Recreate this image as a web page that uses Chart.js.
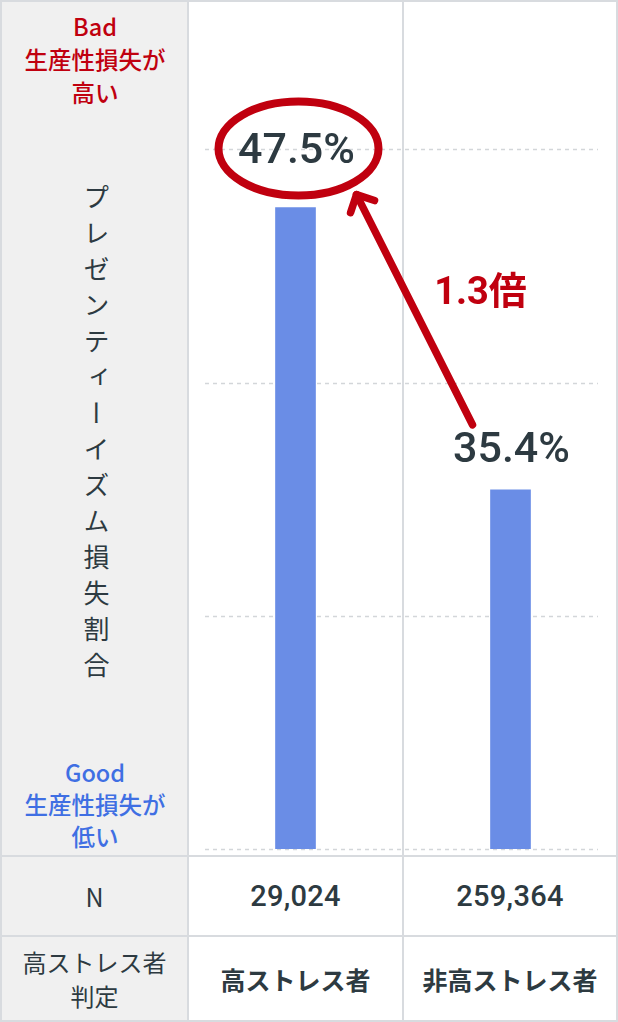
<!DOCTYPE html>
<html><head><meta charset="utf-8">
<script src="https://cdn.jsdelivr.net/npm/chart.js@4.4.1/dist/chart.umd.min.js"></script>
<style>
html,body{margin:0;padding:0;background:#fff;}
#wrap{position:relative;width:618px;height:1022px;overflow:hidden;font-family:"Noto Sans CJK JP","Noto Sans",sans-serif;color:#2d3a41;background:#fff;}
.abs{position:absolute;}
.ln{position:absolute;background:#d8dbdf;z-index:3;}
.lnv{position:absolute;background:#d8dbdf;z-index:1;}
#leftbg{left:0;top:0;width:188px;height:1022px;background:#f0f0f0;}
.cell{position:absolute;display:flex;align-items:center;justify-content:center;text-align:center;}
#bad{left:2px;width:186px;top:10px;line-height:33px;font-size:23.5px;font-weight:500;color:#c0000f;text-align:center;}
#good{left:2px;width:186px;top:756px;line-height:32px;font-size:23.5px;font-weight:500;color:#3f6fe3;text-align:center;}
#vtitle{left:78px;top:184px;width:36px;line-height:36px;font-size:26px;letter-spacing:10px;writing-mode:vertical-rl;text-orientation:upright;color:#2d3a41;}
#cwrap{position:absolute;left:188px;top:0;width:430px;height:856px;z-index:2;}
.num{font-family:Roboto,"Noto Sans CJK JP",sans-serif;font-weight:500;font-size:29px;letter-spacing:0.3px;}
.cat{font-weight:700;font-size:25px;}
</style></head>
<body>
<div id="wrap">
  <div class="abs" id="leftbg"></div>
  <div class="lnv" style="left:402px;top:0;width:2px;height:1022px;"></div>
  <div class="ln" style="left:0;top:0;width:618px;height:2px;"></div>
  <div class="ln" style="left:0;top:1020px;width:618px;height:2px;"></div>
  <div class="ln" style="left:0;top:0;width:2px;height:1022px;"></div>
  <div class="ln" style="left:616px;top:0;width:2px;height:1022px;"></div>
  <div class="ln" style="left:187px;top:0;width:2px;height:1022px;"></div>
  <div class="ln" style="left:402px;top:856px;width:2px;height:166px;"></div>
  <div class="ln" style="left:0;top:855px;width:618px;height:2px;"></div>
  <div class="ln" style="left:0;top:935px;width:618px;height:2px;"></div>

  <div class="abs" id="bad">Bad<br>生産性損失が<br>高い</div>
  <div class="abs" id="good">Good<br>生産性損失が<br>低い</div>
  <div class="abs" id="vtitle">プレゼンティーイズム損失割合</div>

  <div class="cell" style="left:2px;top:857px;width:185px;height:78px;font-size:25px;">N</div>
  <div class="cell num" id="n0" style="left:189px;top:857px;width:213px;height:78px;"></div>
  <div class="cell num" id="n1" style="left:404px;top:857px;width:212px;height:78px;"></div>

  <div class="cell" style="left:2px;top:937px;width:185px;height:83px;font-size:24px;line-height:34px;">高ストレス者<br>判定</div>
  <div class="cell cat" id="c0" style="left:189px;top:937px;width:213px;height:83px;"></div>
  <div class="cell cat" id="c1" style="left:404px;top:937px;width:212px;height:83px;"></div>

  <div id="cwrap"><canvas id="chart" width="430" height="856"></canvas></div>
</div>
<script>
// ---- data ----
const categories = ['高ストレス者', '非高ストレス者'];
const lossRates = [47.5, 35.4];
const sampleSizes = [29024, 259364];
const yTicks = [20, 30, 40, 50];
const ratioLabel = '1.3倍';

// ---- table texts ----
categories.forEach((c, i) => { document.getElementById('c' + i).textContent = c; });
sampleSizes.forEach((n, i) => { document.getElementById('n' + i).textContent = n.toLocaleString('en-US'); });

const RED = '#c0000f';
const DARK = '#2d3a41';

const annotPlugin = {
  id: 'annot',
  beforeDatasetsDraw(chart) {
    const { ctx, chartArea } = chart;
    const y = chart.scales.y;
    ctx.save();
    ctx.strokeStyle = '#d3d6d9';
    ctx.lineWidth = 1.5;
    ctx.setLineDash([4, 4]);
    yTicks.forEach(v => {
      const py = Math.round(y.getPixelForValue(v)) + 0.5;
      ctx.beginPath();
      ctx.moveTo(chartArea.left + 17, py);
      ctx.lineTo(chartArea.right - 20, py);
      ctx.stroke();
    });
    ctx.restore();
  },
  afterDatasetsDraw(chart) {
    const { ctx } = chart;
    const meta = chart.getDatasetMeta(0);
    const labelOffsets = [55, 39];
    const pos = meta.data.map((bar, i) => ({ x: bar.x, y: bar.y - labelOffsets[i] }));
    ctx.save();
    ctx.fillStyle = DARK;
    ctx.textAlign = 'center';
    ctx.textBaseline = 'middle';
    ctx.font = '500 43px Roboto, "Noto Sans CJK JP", sans-serif';
    pos.forEach((p, i) => ctx.fillText(lossRates[i].toFixed(1) + '%', p.x + 1, p.y));

    // ellipse around the highest value
    const ec = { x: pos[0].x + 3, y: pos[0].y - 4 };
    ctx.strokeStyle = RED;
    ctx.lineWidth = 8;
    ctx.beginPath();
    ctx.ellipse(ec.x, ec.y, 80, 47, 0, 0, Math.PI * 2);
    ctx.stroke();

    // arrow from second label to ellipse
    const tail = { x: pos[1].x - 38, y: pos[1].y - 26 };
    const tip = { x: ec.x + 58, y: ec.y + 46 };
    ctx.lineCap = 'round';
    ctx.lineJoin = 'round';
    ctx.lineWidth = 7.5;
    ctx.beginPath();
    ctx.moveTo(tail.x, tail.y);
    ctx.lineTo(tip.x, tip.y);
    ctx.stroke();
    const ang = Math.atan2(tail.y - tip.y, tail.x - tip.x);
    const wl = 19, wa = Math.PI / 4;
    ctx.beginPath();
    ctx.moveTo(tip.x + wl * Math.cos(ang + wa), tip.y + wl * Math.sin(ang + wa));
    ctx.lineTo(tip.x, tip.y);
    ctx.lineTo(tip.x + wl * Math.cos(ang - wa), tip.y + wl * Math.sin(ang - wa));
    ctx.stroke();

    // ratio label
    const mid = { x: (tail.x + tip.x) / 2, y: (tail.y + tip.y) / 2 };
    ctx.fillStyle = RED;
    ctx.font = 'bold 38px Roboto, "Noto Sans CJK JP", sans-serif';
    ctx.fillText(ratioLabel, mid.x + 66, mid.y - 15);
    ctx.restore();
  }
};

new Chart(document.getElementById('chart'), {
  type: 'bar',
  data: {
    labels: categories,
    datasets: [{
      data: lossRates,
      backgroundColor: '#6a8de6',
      barThickness: 40,
      borderWidth: 0
    }]
  },
  options: {
    responsive: false,
    animation: false,
    events: [],
    layout: { padding: { left: 0, right: 0, top: 0, bottom: 7 } },
    plugins: { legend: { display: false }, tooltip: { enabled: false } },
    scales: {
      x: { display: false },
      y: { display: false, min: 20, max: 56.4 }
    }
  },
  plugins: [annotPlugin]
});
</script>
</body></html>
